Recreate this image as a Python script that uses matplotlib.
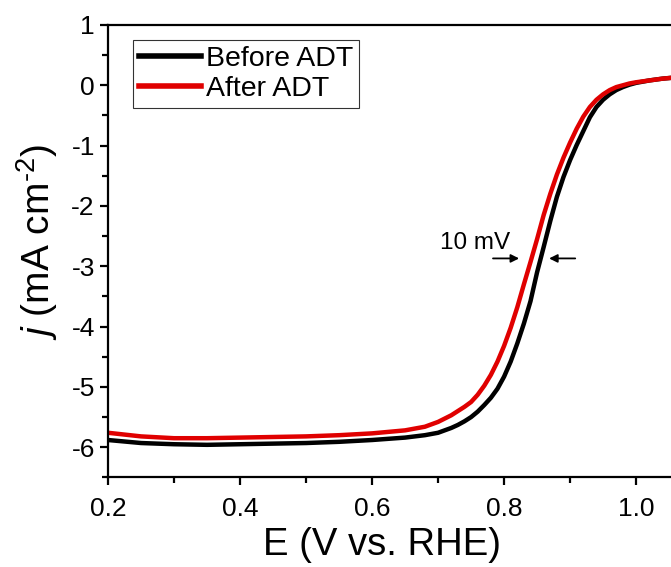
"""LSV curves before / after accelerated durability test (ADT)."""
import matplotlib
matplotlib.use("Agg")
import matplotlib.pyplot as plt
from matplotlib.ticker import MultipleLocator

# ---- data -----------------------------------------------------------------
E_before = [0.20, 0.25, 0.30, 0.35, 0.40, 0.45, 0.50, 0.55, 0.60, 0.65,
            0.68, 0.70, 0.72, 0.73, 0.74, 0.75, 0.76, 0.77, 0.78, 0.79,
            0.80, 0.81, 0.82, 0.83, 0.84, 0.85, 0.86, 0.87, 0.88, 0.89,
            0.90, 0.91, 0.92, 0.93, 0.94, 0.95, 0.96, 0.97, 0.98, 0.99,
            1.00, 1.02, 1.04, 1.06]
j_before = [-5.88, -5.93, -5.95, -5.96, -5.95, -5.94, -5.93, -5.91, -5.88, -5.84,
            -5.80, -5.76, -5.68, -5.63, -5.57, -5.50, -5.41, -5.30, -5.18, -5.03,
            -4.83, -4.58, -4.28, -3.95, -3.58, -3.10, -2.68, -2.25, -1.85, -1.52,
            -1.24, -0.99, -0.76, -0.53, -0.36, -0.24, -0.15, -0.08, -0.03, 0.01,
            0.04, 0.08, 0.11, 0.13]

E_after = [0.20, 0.25, 0.30, 0.35, 0.40, 0.45, 0.50, 0.55, 0.60, 0.65,
           0.68, 0.70, 0.72, 0.74, 0.75, 0.76, 0.77, 0.78, 0.79, 0.80,
           0.81, 0.82, 0.83, 0.84, 0.85, 0.86, 0.87, 0.88, 0.89, 0.90,
           0.91, 0.92, 0.93, 0.94, 0.95, 0.96, 0.97, 0.98, 0.99, 1.00,
           1.02, 1.04, 1.06]
j_after = [-5.76, -5.82, -5.85, -5.85, -5.84, -5.83, -5.82, -5.80, -5.77, -5.72,
           -5.66, -5.58, -5.47, -5.33, -5.25, -5.13, -4.98, -4.80, -4.58, -4.32,
           -4.02, -3.68, -3.30, -2.93, -2.55, -2.15, -1.80, -1.48, -1.20, -0.95,
           -0.72, -0.52, -0.36, -0.24, -0.15, -0.08, -0.03, 0.00, 0.03, 0.05,
           0.08, 0.11, 0.13]

RED = "#e00000"

plt.rcParams.update({
    "font.family": "Liberation Sans",
    "mathtext.fontset": "custom",
    "mathtext.rm": "Liberation Sans",
    "mathtext.it": "Liberation Sans:italic",
    "axes.unicode_minus": False,
    "axes.linewidth": 1.6,
})

fig = plt.figure(figsize=(6.71, 5.67), dpi=100)
ax = fig.add_axes([0.161, 0.158, 0.846, 0.798])

ax.plot(E_before, j_before, color="black", lw=3.2, label="Before ADT")
ax.plot(E_after, j_after, color=RED, lw=3.2, label="After ADT")

ax.set_xlim(0.2, 1.06)
ax.set_ylim(-6.5, 1)
ax.xaxis.set_major_locator(MultipleLocator(0.2))
ax.xaxis.set_minor_locator(MultipleLocator(0.1))
ax.yaxis.set_major_locator(MultipleLocator(1))
ax.yaxis.set_minor_locator(MultipleLocator(0.5))
ax.xaxis.set_major_formatter(plt.FormatStrFormatter("%.1f"))
ax.tick_params(which="major", direction="out", length=6, width=1.6,
               labelsize=19, top=False, right=False)
ax.tick_params(which="minor", direction="out", length=4, width=1.6,
               top=False, right=False)
ax.tick_params(axis="x", which="major", pad=8)
ax.spines["right"].set_visible(False)

ax.set_xlabel("E (V vs. RHE)", fontsize=27.5)
ax.xaxis.set_label_coords(0.483, -0.11)
ax.set_ylabel("$j$ (mA cm$^{\\text{-2}}$)", fontsize=28)
ax.yaxis.set_label_coords(-0.085, 0.52)

# 10 mV shift marker
ax.text(0.756, -2.62, "10 mV", fontsize=17.5, ha="center", va="center")
arw = dict(arrowstyle="-|>", color="black", lw=1.3, mutation_scale=12)
ax.annotate("", xy=(0.827, -2.87), xytext=(0.779, -2.87), arrowprops=arw)
ax.annotate("", xy=(0.864, -2.87), xytext=(0.912, -2.87), arrowprops=arw)

leg = ax.legend(loc="upper left", bbox_to_anchor=(0.044, 0.967),
                borderaxespad=0, fontsize=20.5, frameon=True, fancybox=False,
                handlelength=2.2, handletextpad=0.15, labelspacing=0.15,
                borderpad=0.2)
leg.get_frame().set_edgecolor("black")
leg.get_frame().set_linewidth(0.8)
for line in leg.get_lines():
    line.set_linewidth(4)

fig.savefig("out.png", dpi=100)
